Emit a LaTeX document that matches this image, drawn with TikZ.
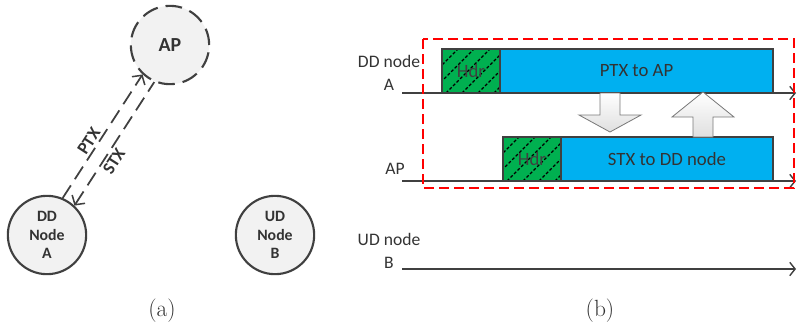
\documentclass[tikz,border=0pt]{standalone}
\usepackage{fontspec}
\newfontfamily\calibri{Carlito}
\usetikzlibrary{arrows.meta,positioning,calc}
\definecolor{outl}{HTML}{404040}
\definecolor{pktblue}{HTML}{00B0F0}
\definecolor{hdrgreen}{HTML}{00B050}
\definecolor{nodegray}{HTML}{F2F2F2}
\definecolor{txtgray}{HTML}{333333}

\tikzset{
  >={Straight Barb[length=2mm,width=4.6mm,line width=1.3pt]},
  station/.style={circle, draw=outl, line width=1.8pt, fill=nodegray,
    minimum size=23.5mm, inner sep=0pt, align=center, text=txtgray,
    font=\calibri\bfseries\fontsize{13.5}{16}\selectfont},
  link/.style={draw=outl, line width=1.5pt, dash pattern=on 4.5mm off 2.2mm},
  linklbl/.style={sloped, inner sep=2pt, text=txtgray,
    font=\calibri\bfseries\fontsize{15}{17}\selectfont},
  timeline/.style={draw=outl, line width=1.4pt,
    -{Straight Barb[length=1.6mm,width=4mm,line width=1.2pt]}},
  rowlbl/.style={align=center, text=txtgray,
    font=\calibri\fontsize{15}{20}\selectfont},
  pktlbl/.style={text=txtgray, font=\calibri\fontsize{16}{18}\selectfont},
  hatch/.style={black, line width=1pt, dash pattern=on 0.9mm off 0.6mm},
  blockarrow/.style={draw=outl!70, line width=0.7pt, top color=white,
    bottom color=gray!25},
  caption/.style={text=txtgray, font=\fontsize{20}{22}\selectfont}
}

\begin{document}
\begin{tikzpicture}[x=0.3mm, y=-0.3mm]
\useasboundingbox (0,0) rectangle (797,326);

% (a) stations
\node[station, dash pattern=on 5mm off 2.4mm, font=\calibri\bfseries\fontsize{17}{19}\selectfont]
  (ap) at (170,45) {AP};
\node[station] (dd) at (47,235) {DD\\Node\\A};
\node[station] (ud) at (275,235) {UD\\Node\\B};

\draw[link, ->] (dd.67) to node[linklbl, above, pos=0.42] {PTX} (ap.227);
\draw[link, <-] (dd.47) to node[linklbl, below, pos=0.40] {STX} (ap.247);

\node[caption] (capa) at (162,311) {(a)};

% (b) time lines
\node[rowlbl] (lblA) at (389,73) {DD node\\A};
\node[rowlbl] (lblAP) at (395,169) {AP};
\node[rowlbl] (lblB) at (389,251) {UD node\\B};

\coordinate (tA0) at (402,93);   \coordinate (tA1) at (796,93);
\coordinate (tP0) at (402,181);  \coordinate (tP1) at (796,181);
\coordinate (tB0) at (402,269);  \coordinate (tB1) at (796,269);

% packets: x0/x1/x2/ytop/ybot/text
\foreach \xa/\xb/\xc/\yt/\yb/\txt/\nm in {
    442/500/773/49/93/PTX to AP/A,
    503/561/773/137/181/STX to DD node/P}{
  \fill[hdrgreen] (\xa,\yt) rectangle (\xb,\yb);
  \begin{scope}
    \clip (\xa,\yt) rectangle (\xb,\yb);
    \foreach \k in {0,...,6}
      \draw[hatch] (\xa-44+\k*16,\yb) -- ++(44,-44);
  \end{scope}
  \draw[outl, line width=1.2pt, fill=pktblue] (\xb,\yt) rectangle (\xc,\yb);
  \draw[outl, line width=1.2pt] (\xa,\yt) rectangle (\xb,\yb);
  \node[pktlbl, text=outl] (hdr\nm) at ({(\xa+\xb)/2},{(\yt+\yb)/2}) {Hdr};
  \node[pktlbl] (pkt\nm) at ({(\xb+\xc)/2},{(\yt+\yb)/2}) {\txt};
}

\draw[timeline] (tA0) -- (tA1);
\draw[timeline] (tP0) -- (tP1);
\draw[timeline] (tB0) -- (tB1);

% block arrows between the two rows
\draw[blockarrow] (600,93) -- (620,93) -- (620,115) -- (641,115) -- (610,132)
  -- (579,115) -- (600,115) -- cycle;
\draw[blockarrow] (693,137) -- (713,137) -- (713,117) -- (734,117) -- (703,92)
  -- (672,117) -- (693,117) -- cycle;

% red window
\draw[red, line width=1.5pt, dash pattern=on 3mm off 1.5mm] (423,39) rectangle (794,188);

\node[caption] (capb) at (600,311) {(b)};
\end{tikzpicture}
\end{document}
